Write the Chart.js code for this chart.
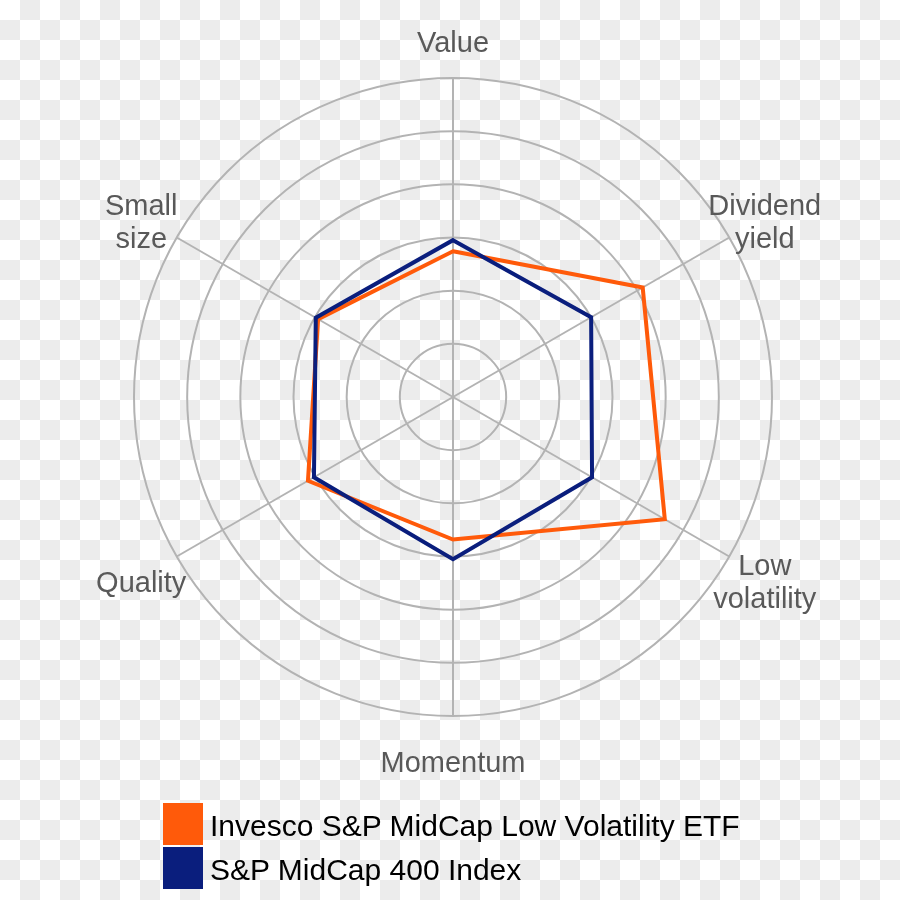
<!DOCTYPE html>
<html>
<head>
<meta charset="utf-8">
<script src="https://cdn.jsdelivr.net/npm/chart.js@4.4.1/dist/chart.umd.min.js"></script>
<style>
    html, body {
        margin: 0;
        padding: 0;
    }
    body {
        width: 900px;
        height: 900px;
        position: relative;
        overflow: hidden;
        background: repeating-conic-gradient(#ececec 0 25%, #ffffff 0 50%) 0 0 / 40px 40px;
        font-family: "Liberation Sans", Arial, sans-serif;
    }
    #chart {
        position: absolute;
        left: 0;
        top: 0;
    }
    #legend {
        position: absolute;
        left: 163px;
        top: 803px;
    }
    .legend-row {
        display: flex;
        align-items: center;
        height: 42px;
        margin-bottom: 2px;
    }
    .legend-box {
        width: 40px;
        height: 42px;
        margin-right: 7px;
    }
    .legend-text {
        font-size: 30px;
        color: #000;
        position: relative;
        top: 2px;
    }
</style>
</head>
<body>
<canvas id="chart" width="900" height="900"></canvas>
<div id="legend"></div>
<script>
// axis labels (clockwise from the top)
const axisLabels = ['Value', ['Dividend', 'yield'], ['Low', 'volatility'], 'Momentum', 'Quality', ['Small', 'size']];

const seriesNames = ['Invesco S&P MidCap Low Volatility ETF', 'S&P MidCap 400 Index'];
const seriesColors = ['#ff5a0a', '#0a1e7d'];

// values (0..6)
const etfValues = [2.74, 4.12, 4.6, 2.68, 3.15, 2.93];
const indexValues = [2.95, 3.0, 3.02, 3.05, 3.02, 2.98];

const gridColor = '#b3b3b3';
const labelColor = '#595959';

// draws the axis names outside the outer ring
const axisLabelPlugin = {
    id: 'axisLabels',
    afterDraw(chart) {
        const scale = chart.scales.r;
        const ctx = chart.ctx;
        const lineHeight = 33;
        const capHalf = 14.5;
        ctx.save();
        ctx.font = '29px "Liberation Sans", Arial, sans-serif';
        ctx.fillStyle = labelColor;
        ctx.textAlign = 'center';
        ctx.textBaseline = 'alphabetic';
        axisLabels.forEach((label, i) => {
            const lines = Array.isArray(label) ? label : [label];
            const pos = scale.getPointPosition(i, scale.drawingArea + 41);
            const firstBase = pos.y - (lines.length - 1) * lineHeight / 2 + capHalf;
            lines.forEach((line, j) => {
                ctx.fillText(line, pos.x, firstBase + j * lineHeight);
            });
        });
        ctx.restore();
    }
};

const ctx = document.getElementById('chart').getContext('2d');
const chart = new Chart(ctx, {
    type: 'radar',
    data: {
        labels: axisLabels,
        datasets: [
            {
                label: seriesNames[0],
                data: etfValues,
                borderColor: seriesColors[0],
                backgroundColor: 'transparent',
                borderWidth: 4,
                pointRadius: 0,
                fill: false,
                order: 1
            },
            {
                label: seriesNames[1],
                data: indexValues,
                borderColor: seriesColors[1],
                backgroundColor: 'transparent',
                borderWidth: 4,
                pointRadius: 0,
                fill: false,
                order: 0
            }
        ]
    },
    options: {
        responsive: false,
        animation: false,
        devicePixelRatio: 1,
        layout: {
            padding: { left: 134, right: 128, top: 78, bottom: 184 }
        },
        plugins: {
            legend: { display: false },
            tooltip: { enabled: false }
        },
        elements: {
            line: { tension: 0, borderJoinStyle: 'miter' }
        },
        scales: {
            r: {
                min: 0,
                max: 6,
                ticks: { stepSize: 1, display: false },
                grid: { circular: true, color: gridColor, lineWidth: 2 },
                angleLines: { color: gridColor, lineWidth: 2 },
                pointLabels: { display: false }
            }
        }
    },
    plugins: [axisLabelPlugin]
});

// legend built from the datasets
const legendEl = document.getElementById('legend');
chart.data.datasets.forEach((ds) => {
    const row = document.createElement('div');
    row.className = 'legend-row';
    const box = document.createElement('div');
    box.className = 'legend-box';
    box.style.background = ds.borderColor;
    const text = document.createElement('span');
    text.className = 'legend-text';
    text.textContent = ds.label;
    row.appendChild(box);
    row.appendChild(text);
    legendEl.appendChild(row);
});
</script>
</body>
</html>
